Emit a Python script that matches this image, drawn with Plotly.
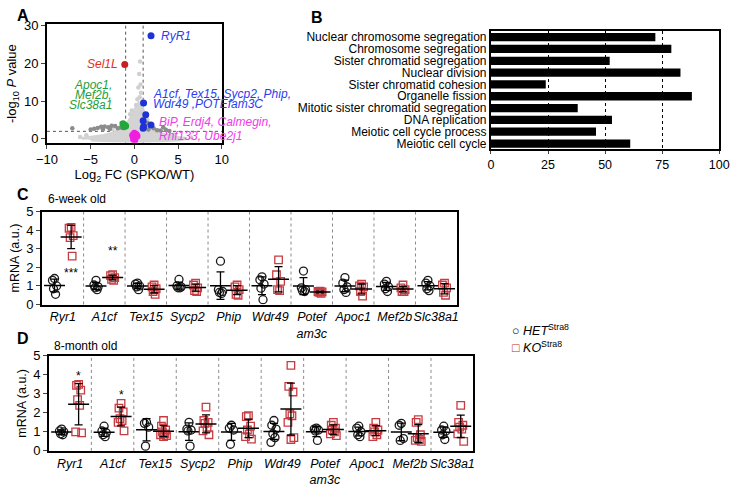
import numpy as np
import plotly.graph_objects as go

W, H = 739, 487
FONT = "Liberation Sans, Arial, sans-serif"

# ---------------- Panel A : volcano plot ----------------
cloud_x = [-6.0, -4.5, -3.5, -2.5, -1.8, -1.2, -0.7, -0.3, 0.1, 0.5, 0.9, 1.2, 1.6, 2.2, 3.0, 4.0, 5.0, 6.0,
           5.0, 3.0, 0.0, -3.0, -5.0]
cloud_y = [0.1, 0.5, 0.9, 1.5, 2.2, 3.0, 4.5, 6.0, 8.0, 9.5, 8.5, 6.0, 3.5, 2.2, 1.4, 0.8, 0.4, 0.1,
           -0.3, -0.5, -0.6, -0.5, -0.3]
light_x = [0.65, 0.55, 0.7, 0.45, 0.75, 0.6, 0.35, 0.9, -0.3, 1.5, -1.5, -0.5, 2.0, -2.5, 4.5, -5.5, -6.2, 6.5, 0.2, 0.8]
light_y = [20.5, 17.2, 14.4, 13.6, 12.2, 11.0, 10.5, 10.0, 7.5, 5.0, 4.2, 6.5, 3.0, 2.6, 1.2, 1.0, 0.5, 0.4, 9.0, 7.0]
dark_x = [-7.1, -5.0, -4.6, -4.2, -3.8, -3.4, -3.0, -2.6, -2.2, -1.9, -1.6, -2.8, -3.6, 1.6, 2.2, 2.6, 3.0, 3.6, 4.0, 3.3, 1.5]
dark_y = [2.8, 2.5, 2.7, 2.9, 3.2, 3.3, 3.1, 3.5, 3.4, 2.8, 3.0, 2.6, 2.5, 2.5, 2.8, 2.3, 2.2, 2.4, 2.1, 3.1, 4.2]
blue_x = [1.9, 1.05, 1.3, 1.0, 1.9, 1.05, 1.0]
blue_y = [27.3, 9.5, 6.4, 4.8, 3.7, 3.2, 2.8]
red_x = [-1.1]
red_y = [19.7]
green_x = [-1.3, -1.1, -1.2, -1.0]
green_y = [4.0, 3.6, 3.2, 3.4]
magenta_x = [0.0, -0.2, 0.1, 0.0, 0.2, -0.1, 0.3, 0.05]
magenta_y = [1.5, 1.0, 0.5, 0.2, 1.2, 0.0, 0.8, -0.3]

# ---------------- Panel B : GO terms ----------------
go_terms = ["Nuclear chromosome segregation", "Chromosome segregation", "Sister chromatid segregation",
            "Nuclear division", "Sister chromatid cohesion", "Organelle fission",
            "Mitotic sister chromatid segregation", "DNA replication", "Meiotic cell cycle process",
            "Meiotic cell cycle"]
go_values = [72, 79, 52, 83, 24, 88, 38, 53, 46, 61]

# ---------------- Panels C / D : qPCR ----------------
genes = ["Ryr1", "A1cf", "Tex15", "Sycp2", "Phip", "Wdr49", "Potef\nam3c", "Apoc1", "Mef2b", "Slc38a1"]

c_het = [[1.4, 1.3, 1.0, 0.85, 0.55], [1.3, 1.05, 0.95, 0.9, 0.8], [1.15, 1.1, 1.0, 0.95, 0.8],
         [1.35, 1.0, 0.95, 0.9, 0.9], [2.33, 0.8, 0.7, 0.65, 0.6], [1.49, 1.33, 1.1, 0.88, 0.26],
         [1.8, 0.9, 0.8, 0.75, 0.7], [1.45, 1.15, 0.95, 0.8, 0.65], [1.25, 1.1, 0.95, 0.85, 0.7],
         [1.3, 1.15, 1.0, 0.85, 0.75]]
c_ko = [[4.15, 4.1, 3.7, 3.6, 2.6], [1.6, 1.55, 1.45, 1.35, 1.3], [1.05, 0.95, 0.85, 0.7, 0.55],
        [1.15, 1.05, 0.9, 0.75, 0.7], [1.05, 0.95, 0.8, 0.55, 0.5], [2.4, 1.6, 1.25, 0.8, 0.75],
        [0.72, 0.7, 0.68, 0.65, 0.6], [1.1, 1.0, 0.95, 0.7, 0.45], [1.05, 0.9, 0.8, 0.7, 0.7],
        [1.15, 1.05, 0.9, 0.65, 0.5]]
d_het = [[1.15, 1.05, 1.0, 0.9, 0.85], [1.3, 1.05, 0.95, 0.85, 0.75], [1.5, 1.45, 1.25, 0.25],
         [1.5, 1.15, 1.1, 1.05, 0.25], [1.35, 1.2, 1.1, 0.35], [1.6, 1.35, 1.15, 0.9, 0.7, 0.45],
         [1.2, 1.15, 1.1, 1.05, 0.55], [1.3, 1.2, 1.0, 0.85, 0.75], [1.45, 1.35, 0.65, 0.55],
         [1.3, 1.1, 1.05, 0.85, 0.6]]
d_ko = [[3.5, 3.45, 3.2, 2.7, 2.4, 1.0, 0.95], [2.5, 2.25, 2.05, 1.7, 1.6, 1.5, 1.05],
        [1.6, 1.3, 1.1, 1.0, 0.9, 0.85, 0.8, 0.75], [2.3, 1.6, 1.5, 1.45, 1.2, 1.05, 0.85],
        [1.85, 1.8, 1.3, 1.1, 0.9, 0.75, 0.62], [4.5, 3.4, 3.1, 1.95, 1.85, 1.5, 0.7, 0.6],
        [1.5, 1.35, 1.2, 1.1, 1.0, 0.9, 0.8], [1.5, 1.2, 1.1, 1.0, 0.85, 0.75],
        [1.65, 1.5, 0.85, 0.7, 0.6, 0.55, 0.5], [2.4, 1.5, 1.35, 1.25, 1.15, 0.9, 0.5]]
c_stars = {0: ("***", 1.7), 1: ("**", 2.9)}
d_stars = {0: ("*", 3.95), 1: ("*", 2.95)}

# ---------------- styling ----------------
BLACK = "black"
KO_RED = "#c1272d"
JITTER = [0.0, -0.05, 0.05, -0.025, 0.025, -0.07, 0.07, 0.0]
OFF = 0.2


def dom_x(p0, p1):
    return [p0 / W, p1 / W]


def dom_y(top, bot):
    return [1 - bot / H, 1 - top / H]


fig = go.Figure()

# Panel A traces
fig.add_trace(go.Scatter(x=cloud_x, y=cloud_y, fill="toself", mode="lines", fillcolor="#d4d4d4",
                         line=dict(color="#d4d4d4", width=3), hoverinfo="skip", showlegend=False,
                         xaxis="x", yaxis="y"))
fig.add_trace(go.Scatter(x=light_x, y=light_y, mode="markers", marker=dict(color="#d0d0d0", size=4.5),
                         showlegend=False, xaxis="x", yaxis="y"))
fig.add_trace(go.Scatter(x=dark_x, y=dark_y, mode="markers", marker=dict(color="#8c8c8c", size=4.5),
                         showlegend=False, xaxis="x", yaxis="y"))
fig.add_trace(go.Scatter(x=magenta_x, y=magenta_y, mode="markers", marker=dict(color="#f01ee0", size=7),
                         showlegend=False, xaxis="x", yaxis="y"))
fig.add_trace(go.Scatter(x=green_x, y=green_y, mode="markers", marker=dict(color="#22a83a", size=7),
                         showlegend=False, xaxis="x", yaxis="y"))
fig.add_trace(go.Scatter(x=blue_x, y=blue_y, mode="markers", marker=dict(color="#1f32d6", size=7),
                         showlegend=False, xaxis="x", yaxis="y"))
fig.add_trace(go.Scatter(x=red_x, y=red_y, mode="markers", marker=dict(color="#c8201e", size=7),
                         showlegend=False, xaxis="x", yaxis="y"))

# Panel B
fig.add_trace(go.Bar(x=go_values, y=go_terms, orientation="h", marker=dict(color="black", line=dict(width=0)),
                     width=0.7, showlegend=False, xaxis="x2", yaxis="y2"))


def add_qpcr(het, ko, xa, ya):
    for vals, off, sym, col in [(het, -OFF, "circle-open", BLACK), (ko, OFF, "square-open", KO_RED)]:
        xs, ys, mx, my, sd = [], [], [], [], []
        for i, v in enumerate(vals):
            for k, val in enumerate(v):
                xs.append(i + off + JITTER[k % len(JITTER)])
                ys.append(val)
            mx.append(i + off)
            my.append(float(np.mean(v)))
            sd.append(float(np.std(v, ddof=1)))
        fig.add_trace(go.Scatter(x=xs, y=ys, mode="markers",
                                 marker=dict(symbol=sym, size=8 if sym.startswith("circle") else 7.5,
                                             color=col, line=dict(width=1.3, color=col)),
                                 opacity=0.9, showlegend=False, xaxis=xa, yaxis=ya))
        fig.add_trace(go.Scatter(x=mx, y=my, mode="markers",
                                 marker=dict(symbol="line-ew", size=15, line=dict(width=1.5, color="black")),
                                 error_y=dict(type="data", array=sd, color="black", thickness=1.3, width=4),
                                 showlegend=False, xaxis=xa, yaxis=ya))


add_qpcr(c_het, c_ko, "x3", "y3")
add_qpcr(d_het, d_ko, "x4", "y4")

tickfont = dict(family=FONT, size=13, color="black")
frame = dict(showline=True, mirror=True, linecolor="black", linewidth=1.8, zeroline=False, showgrid=False)

gene_ticks = ["<br>".join("<i>%s</i>" % p for p in g.split("\n")) for g in genes]

fig.update_layout(
    width=W, height=H, margin=dict(l=0, r=0, t=0, b=0),
    paper_bgcolor="white", plot_bgcolor="white",
    font=dict(family=FONT, color="black"),
    bargap=0.3,
    xaxis=dict(domain=dom_x(37, 217), range=[-10, 10], tickvals=[-10, -5, 0, 5, 10], anchor="y",
               ticks="outside", ticklen=4, tickfont=tickfont, tickangle=0,
               title=dict(text="Log<sub>2</sub> FC (SPKO/WT)", font=dict(size=13), standoff=2), **frame),
    yaxis=dict(domain=dom_y(18, 140), range=[-1, 30.3], tickvals=[0, 10, 20, 30], anchor="x",
               ticks="outside", ticklen=4, tickfont=tickfont,
               title=dict(text="-log<sub>10</sub> <i>P</i> value", font=dict(size=13), standoff=4), **frame),
    xaxis2=dict(domain=dom_x(494, 729), range=[0, 100], tickvals=[0, 25, 50, 75, 100], anchor="y2",
                ticks="outside", ticklen=3, tickfont=dict(family=FONT, size=12.5), tickangle=0,
                showline=True, mirror=True, linecolor="black", linewidth=2, zeroline=False,
                showgrid=True, gridcolor="black", griddash="dot", gridwidth=1),
    yaxis2=dict(domain=dom_y(25, 147), autorange="reversed", anchor="x2", ticks="",
                tickmode="array", tickvals=go_terms, ticktext=go_terms,
                tickfont=dict(family=FONT, size=12), showline=True, mirror=True, linecolor="black",
                linewidth=2, showgrid=False, zeroline=False),
    xaxis3=dict(domain=dom_x(32, 459), range=[-0.5, 9.5], tickvals=list(range(10)), ticktext=gene_ticks,
                anchor="y3", ticks="", tickangle=0, tickfont=dict(family=FONT, size=12.5), **frame),
    yaxis3=dict(domain=dom_y(211, 307), range=[0, 5], tickvals=[0, 1, 2, 3, 4, 5], anchor="x3",
                ticks="outside", ticklen=4, tickfont=tickfont,
                title=dict(text="mRNA (a.u.)", font=dict(size=12.5), standoff=4), **frame),
    xaxis4=dict(domain=dom_x(39, 476), range=[-0.5, 9.5], tickvals=list(range(10)), ticktext=gene_ticks,
                anchor="y4", ticks="", tickangle=0, tickfont=dict(family=FONT, size=12.5), **frame),
    yaxis4=dict(domain=dom_y(360, 458), range=[0, 5], tickvals=[0, 1, 2, 3, 4, 5], anchor="x4",
                ticks="outside", ticklen=4, tickfont=tickfont,
                title=dict(text="mRNA (a.u.)", font=dict(size=12.5), standoff=4), **frame),
)

shapes = []
dot_line = dict(color="#555555", width=1, dash="dot")
for xv in (-1, 1):
    shapes.append(dict(type="line", xref="x", yref="y domain", x0=xv, x1=xv, y0=0, y1=1, line=dot_line, layer="below"))
shapes.append(dict(type="line", xref="x domain", yref="y", x0=0, x1=1, y0=2, y1=2, line=dot_line, layer="below"))
for ax in ("3", "4"):
    for i in range(9):
        shapes.append(dict(type="line", xref="x" + ax, yref="y%s domain" % ax, x0=i + 0.5, x1=i + 0.5,
                           y0=0, y1=1, line=dict(color="#8a8a8a", width=1, dash="dot"), layer="below"))
fig.update_layout(shapes=shapes)

ann = []


def txt(x, y, s, xref="paper", yref="paper", size=12, color="black", xanchor="left", yanchor="middle"):
    ann.append(dict(x=x, y=y, xref=xref, yref=yref, text=s, showarrow=False, xanchor=xanchor, yanchor=yanchor,
                    font=dict(family=FONT, size=size, color=color), align="left"))


# panel letters
txt(4 / W, 1 - 9 / H, "<b>A</b>", size=16)
txt(307 / W, 1 - 11 / H, "<b>B</b>", size=16)
txt(4 / W, 1 - 193 / H, "<b>C</b>", size=16)
txt(4 / W, 1 - 342 / H, "<b>D</b>", size=16)
txt(36 / W, 1 - 198 / H, "6-week old", size=12)
txt(42 / W, 1 - 350 / H, "8-month old", size=12)

# volcano labels
BLUE_T, GREEN_T, MAG_T, RED_T = "#2a3cf0", "#1e9e3a", "#f03ce8", "#e0301e"
txt(2.8, 27.3, "<i>RyR1</i>", "x", "y", 12, BLUE_T)
txt(-1.7, 19.7, "<i>Sel1L</i>", "x", "y", 12, RED_T, xanchor="right")
txt(1.85, 12.0, "<i>A1cf, Tex15, Sycp2, Phip,</i>", "x", "y", 12, BLUE_T)
txt(1.85, 9.2, "<i>Wdr49 ,POTEfam3C</i>", "x", "y", 12, BLUE_T)
for yy, s in zip([14.3, 11.6, 8.9], ["Apoc1,", "Mef2b,", "Slc38a1"]):
    txt(-2.3, yy, "<i>%s</i>" % s, "x", "y", 12, GREEN_T, xanchor="right")
txt(2.55, 4.4, "<i>BiP, Erdj4, Calmegin,</i>", "x", "y", 12, MAG_T)
txt(2.55, 0.8, "<i>Rnf133, Ube2j1</i>", "x", "y", 12, MAG_T)

# stars
for stars, xa, ya in [(c_stars, "x3", "y3"), (d_stars, "x4", "y4")]:
    for i, (s, yv) in stars.items():
        txt(i + OFF, yv, s, xa, ya, 12, "black", xanchor="center")

# legend (text glyph symbols)
txt(514 / W, 1 - 333 / H, "○ <i>HET</i><sup>Stra8</sup>", size=12.5)
txt(514 / W, 1 - 351 / H, "<span style='color:%s'>□</span> <i>KO</i><sup>Stra8</sup>" % KO_RED, size=12.5)

fig.update_layout(annotations=ann)
fig.write_html("out.html")
